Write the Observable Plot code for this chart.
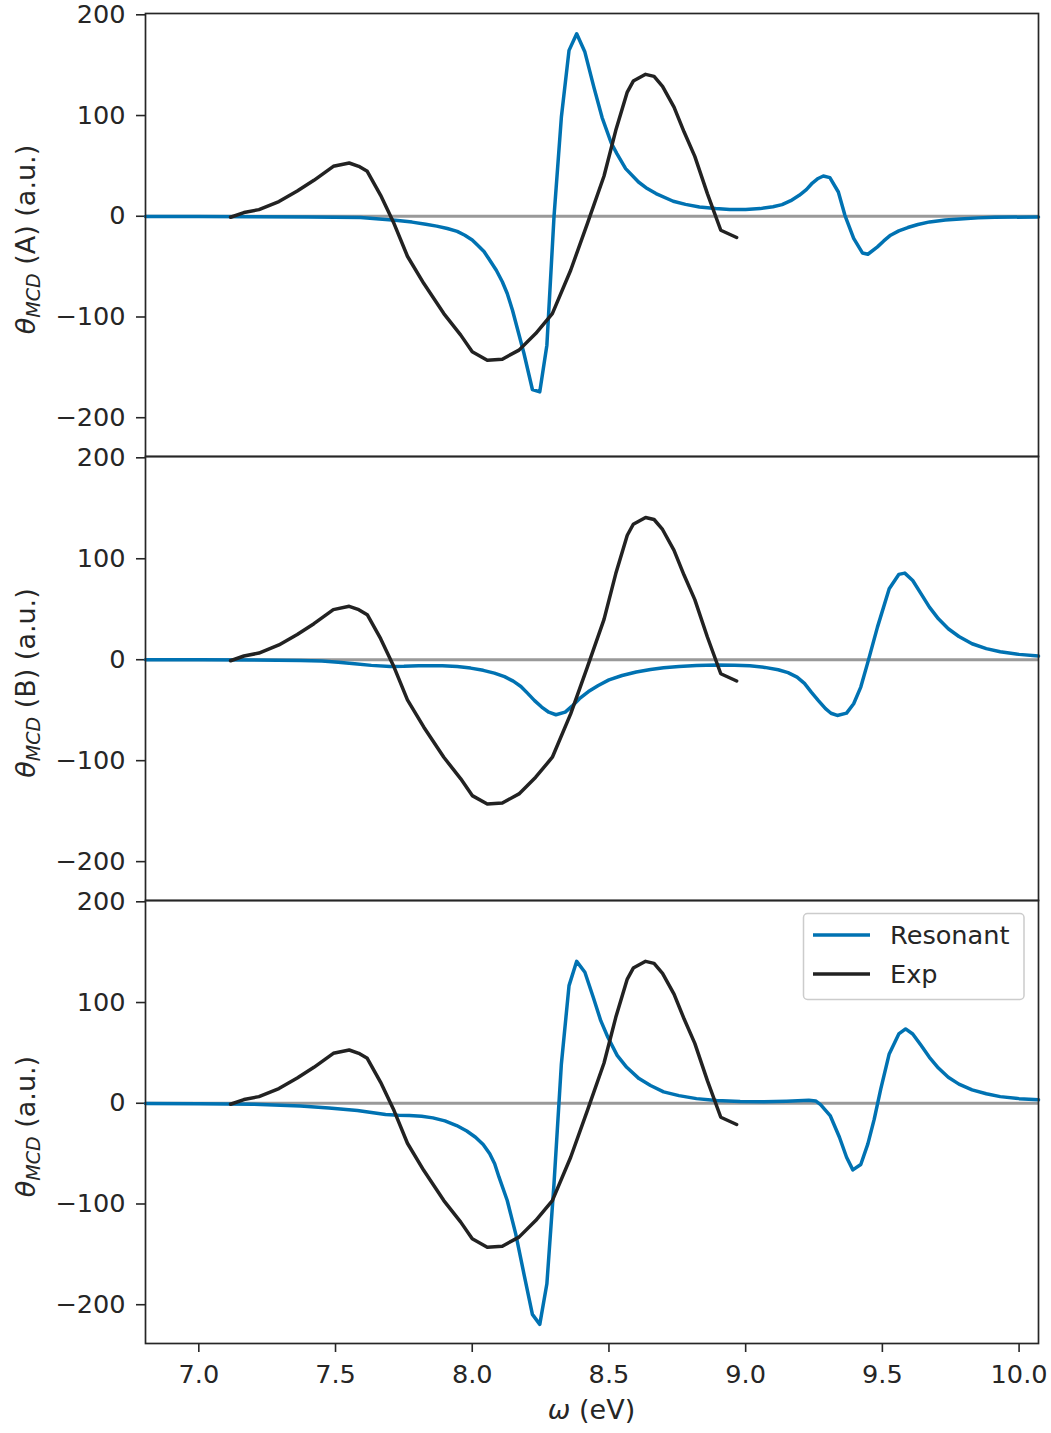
<!DOCTYPE html>
<html>
<head>
<meta charset="utf-8">
<script src="https://cdn.jsdelivr.net/npm/d3@7"></script>
<script src="https://cdn.jsdelivr.net/npm/@observablehq/plot@0.6"></script>
<style>
  body { margin: 0; background: #ffffff; }
  #chart { position: relative; width: 1051px; height: 1433px; }
  #chart svg { display: block; overflow: visible; }
</style>
</head>
<body>
<div id="chart"></div>
<script>
// ---------- data ----------
const expX = [7.116, 7.165, 7.220, 7.293, 7.360, 7.421, 7.492, 7.550, 7.585, 7.616, 7.665, 7.714, 7.763, 7.823, 7.896, 7.958, 8.000, 8.055, 8.110, 8.171, 8.232, 8.293, 8.360, 8.421, 8.482, 8.525, 8.567, 8.589, 8.634, 8.665, 8.696, 8.738, 8.775, 8.814, 8.860, 8.909, 8.967];
const expY = [-1, 3.7, 6.6, 14.6, 25, 35.7, 49.6, 52.9, 49.6, 44.6, 20.8, -7.3, -39.7, -66.8, -96.6, -118, -134.6, -142.9, -141.9, -132.9, -116.4, -96.6, -53.6, -7.3, 40, 85.3, 123.3, 134.2, 140.9, 138.9, 129, 108.4, 83.6, 59.5, 22.5, -13.9, -21.1];

const resAX = [6.805, 7.0, 7.2, 7.4, 7.592, 7.66, 7.719, 7.78, 7.830, 7.87, 7.909, 7.945, 7.973, 8.0, 8.020, 8.043, 8.060, 8.088, 8.110, 8.128, 8.147, 8.165, 8.189, 8.220, 8.247, 8.273, 8.299, 8.326, 8.354, 8.382, 8.412, 8.445, 8.475, 8.508, 8.529, 8.561, 8.608, 8.640, 8.672, 8.735, 8.78, 8.831, 8.89, 8.942, 9.0, 9.053, 9.1, 9.133, 9.165, 9.196, 9.222, 9.244, 9.265, 9.284, 9.308, 9.339, 9.363, 9.395, 9.427, 9.447, 9.482, 9.505, 9.530, 9.56, 9.593, 9.63, 9.673, 9.73, 9.784, 9.85, 9.911, 10.071];
const resAY = [-0.2, -0.3, -0.5, -0.8, -1.3, -2.7, -4, -5.8, -7.9, -9.8, -12.2, -15, -18.8, -23.5, -28.8, -35, -42, -53.6, -65, -76.7, -93, -111.4, -136, -172, -174.3, -128, -0.7, 98.5, 164.7, 181.2, 163, 128, 98, 73, 62.2, 47.3, 34, 27.5, 22.5, 14.9, 11.8, 9.2, 7.6, 6.6, 6.8, 7.6, 9.5, 11.6, 15.5, 20.8, 26.5, 33, 37.5, 40, 38.4, 24.1, 1, -22, -36.4, -37.7, -30.4, -24.5, -18.8, -14.5, -11.2, -8.2, -5.6, -3.8, -2.6, -1.6, -1, -0.7];

const resBX = [6.805, 7.0, 7.2, 7.372, 7.45, 7.510, 7.57, 7.631, 7.700, 7.75, 7.804, 7.891, 7.945, 7.994, 8.04, 8.081, 8.118, 8.150, 8.178, 8.202, 8.228, 8.254, 8.280, 8.306, 8.340, 8.365, 8.392, 8.425, 8.461, 8.50, 8.548, 8.60, 8.652, 8.70, 8.756, 8.82, 8.894, 8.96, 9.015, 9.07, 9.119, 9.155, 9.188, 9.215, 9.240, 9.266, 9.292, 9.312, 9.335, 9.369, 9.395, 9.421, 9.447, 9.482, 9.525, 9.560, 9.582, 9.611, 9.64, 9.672, 9.705, 9.741, 9.78, 9.828, 9.88, 9.931, 10.0, 10.071];
const resBY = [0, -0.1, -0.3, -0.7, -1.3, -2.4, -4, -5.6, -6.6, -6.5, -6, -6, -6.8, -8.3, -10.5, -13.3, -16.8, -21.2, -26.5, -33.1, -40.5, -46.9, -52, -54.5, -51.9, -46, -38.6, -31.5, -25.5, -20, -15.6, -12.2, -9.6, -7.9, -6.6, -5.7, -5.3, -5.4, -6, -7.6, -9.9, -12.8, -17.2, -23.5, -32.1, -40.5, -48.5, -53, -55.2, -52.9, -43.6, -27.1, -2.4, 32.3, 70.3, 84.5, 85.8, 78.5, 66, 52.1, 40.5, 30.7, 23, 15.8, 11, 7.9, 5.3, 3.6];

const resCX = [6.805, 7.0, 7.2, 7.372, 7.476, 7.580, 7.683, 7.730, 7.770, 7.815, 7.856, 7.90, 7.943, 7.98, 8.012, 8.040, 8.064, 8.082, 8.098, 8.128, 8.159, 8.189, 8.220, 8.247, 8.273, 8.299, 8.326, 8.354, 8.382, 8.412, 8.444, 8.470, 8.496, 8.530, 8.565, 8.610, 8.652, 8.70, 8.756, 8.82, 8.894, 8.98, 9.067, 9.15, 9.231, 9.256, 9.274, 9.309, 9.343, 9.369, 9.392, 9.421, 9.447, 9.470, 9.494, 9.525, 9.560, 9.585, 9.611, 9.640, 9.672, 9.705, 9.741, 9.78, 9.828, 9.88, 9.931, 10.0, 10.071];
const resCY = [-0.2, -0.4, -0.9, -2.6, -4.6, -7.2, -11.2, -11.9, -12.2, -13, -14.5, -17.5, -22.1, -27.5, -33.7, -41, -50.2, -60, -73.4, -96.5, -129.6, -169.3, -209.6, -219.5, -179.2, -80, 39, 116.8, 140.9, 130, 104, 82, 65.5, 47.5, 35.7, 24.5, 17.6, 11.3, 7.6, 4.6, 2.7, 1.7, 1.4, 2, 3, 2.3, -1.3, -12.2, -33.7, -53.6, -66.1, -60.8, -40.3, -16, 14, 49, 68.8, 73.8, 68.8, 58, 45.6, 35, 25.8, 19, 13.3, 9.5, 6.6, 4.6, 3.4];

const xTicks = [7.0, 7.5, 8.0, 8.5, 9.0, 9.5, 10.0];
const yTicks = [-200, -100, 0, 100, 200];
const panelTags = ["(A) ", "(B) ", ""];
const seriesNames = ["Resonant", "Exp"];
const seriesColors = ["#0072b2", "#222222"];

// ---------- build ----------
const toRows = (xs, ys) => xs.map((x, i) => ({x, y: ys[i]}));
const expRows = toRows(expX, expY);
const resRows = [toRows(resAX, resAY), toRows(resBX, resBY), toRows(resCX, resCY)];

const W = 1051, ML = 145, MR = 13;
const layout = [
  {height: 456, marginTop: 13, marginBottom: 0},
  {height: 444, marginTop: 0, marginBottom: 0},
  {height: 533, marginTop: 0, marginBottom: 90}
];
const ink = "#262626";
const font = "DejaVu Sans";
const root = document.getElementById("chart");

layout.forEach((L, i) => {
  const last = i === layout.length - 1;
  const chart = Plot.plot({
    width: W,
    height: L.height,
    marginLeft: ML,
    marginRight: MR,
    marginTop: L.marginTop,
    marginBottom: L.marginBottom,
    style: {fontFamily: font, fontSize: "25.6px", color: ink, background: "transparent", overflow: "visible"},
    x: {domain: [6.805, 10.071], ticks: xTicks, tickFormat: d3.format(".1f"), tickSize: 9, tickPadding: 12, label: null, axis: last ? "bottom" : null},
    y: {domain: [-238.5, 201.3], ticks: yTicks, tickFormat: d3.format("d"), tickSize: 9, tickPadding: 11, label: null},
    marks: [
      Plot.ruleY([0], {stroke: "#999999", strokeWidth: 3}),
      Plot.line(resRows[i], {x: "x", y: "y", stroke: seriesColors[0], strokeWidth: 3.5}),
      Plot.line(expRows, {x: "x", y: "y", stroke: seriesColors[1], strokeWidth: 3.5}),
      Plot.frame({stroke: ink, strokeWidth: 1.7})
    ]
  });
  root.appendChild(chart);
  const svg = d3.select(chart);
  svg.selectAll('[aria-label^="y-axis"] line, [aria-label^="y-axis"] path, [aria-label^="x-axis"] line, [aria-label^="x-axis"] path')
    .attr("stroke-width", 1.6);

  // y label with mathtext-like subscript
  const cy = L.marginTop + (L.height - L.marginTop - L.marginBottom) / 2 + 5;
  const t = svg.append("text")
    .attr("transform", `translate(35,${cy}) rotate(-90)`)
    .attr("text-anchor", "middle")
    .attr("fill", ink)
    .attr("font-family", font)
    .attr("font-size", 27);
  t.append("tspan").attr("font-style", "italic").text("θ");
  t.append("tspan").attr("font-style", "italic").attr("font-size", 19).attr("dy", 5).text("MCD");
  t.append("tspan").attr("dy", -5).text(" " + panelTags[i] + "(a.u.)");

  if (last) {
    const inner = L.height - L.marginTop - L.marginBottom;
    const xl = svg.append("text")
      .attr("x", ML + (W - ML - MR) / 2)
      .attr("y", inner + 75.5)
      .attr("text-anchor", "middle")
      .attr("fill", ink)
      .attr("font-family", font)
      .attr("font-size", 27);
    xl.append("tspan").attr("font-style", "italic").text("ω");
    xl.append("tspan").text(" (eV)");

    // legend
    const lg = svg.append("g").attr("font-family", font).attr("font-size", 25.6).attr("fill", ink).attr("text-anchor", "start");
    lg.append("rect").attr("x", 803.5).attr("y", 13.5).attr("width", 220.5).attr("height", 86)
      .attr("rx", 4).attr("fill", "#ffffff").attr("fill-opacity", 0.8)
      .attr("stroke", "#cccccc").attr("stroke-width", 1.5);
    seriesNames.forEach((name, k) => {
      const yy = 35 + k * 39;
      lg.append("line").attr("x1", 813).attr("x2", 870).attr("y1", yy).attr("y2", yy)
        .attr("stroke", seriesColors[k]).attr("stroke-width", 3.5);
      lg.append("text").attr("x", 890).attr("y", yy + 9).attr("text-anchor", "start").text(name);
    });
  }
});
</script>
</body>
</html>
